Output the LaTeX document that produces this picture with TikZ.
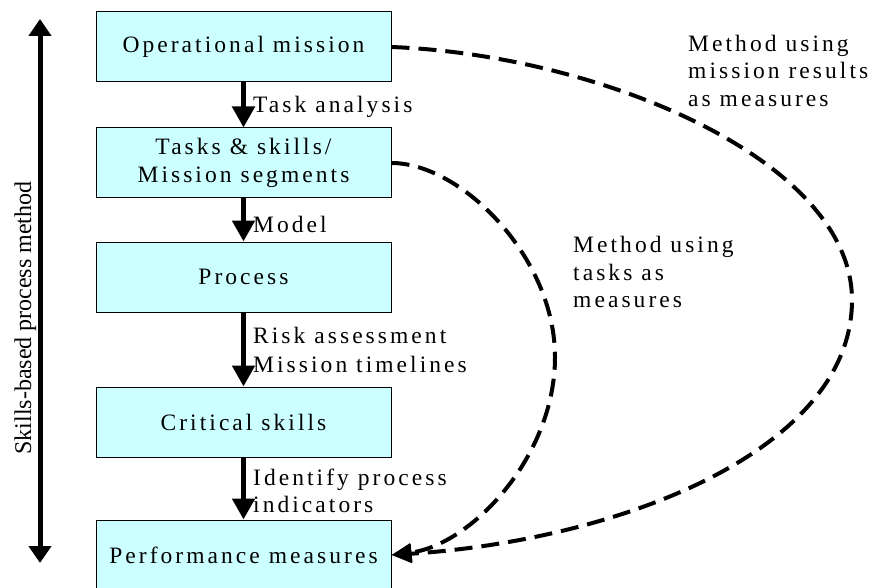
\documentclass[tikz,border=0pt]{standalone}
\usepackage{fontspec}
\setmainfont{Liberation Serif}
\newfontfamily\lsfont[LetterSpace=13]{Liberation Serif}
\usetikzlibrary{arrows.meta}
\definecolor{boxfill}{HTML}{CCFFFF}
\begin{document}
\begin{tikzpicture}[x=1pt,y=-1pt,
  box/.style={draw=black, line width=1pt, fill=boxfill, minimum width=295pt, minimum height=70pt, inner sep=0pt, align=center, font=\lsfont\fontsize{23.5}{28.5}\selectfont},
  flow/.style={line width=5pt, -{Triangle[length=21pt,width=22pt]}},
  lbl/.style={anchor=base west, inner sep=0pt, font=\lsfont\fontsize{23.5}{27}\selectfont},
  meas/.style={line width=4pt, dash pattern=on 18pt off 9pt, -{Triangle[length=20pt,width=18pt]}}
]
\useasboundingbox (0,0) rectangle (875,588);
\node[box] (b1) at (243.5,47) {Operational mission};
\node[box] (b2) at (243.5,163) {\raisebox{-3pt}{\parbox{295pt}{\centering Tasks \& skills/\\Mission segments}}};
\node[box] (b3) at (243.5,277) {Process};
\node[box] (b4) at (243.5,422) {Critical skills};
\node[box] (b5) at (243.5,555) {Performance measures};

\draw[flow] (b1) -- (b2);
\draw[flow] (b2) -- (b3);
\draw[flow] (b3) -- (b4);
\draw[flow] (b4) -- (b5);

\node[lbl] (l1) at (253,113) {Task analysis};
\node[lbl] (l2) at (253,233) {Model};
\node[lbl] (l3a) at (253,343) {Risk assessment};
\node[lbl] (l3b) at (253,372) {Mission timelines};
\node[lbl] (l4a) at (253,485) {Identify process};
\node[lbl] (l4b) at (253,512) {indicators};

\node[lbl] (r1a) at (688,52) {Method using};
\node[lbl] (r1b) at (688,79) {mission results};
\node[lbl] (r1c) at (688,107) {as measures};
\node[lbl] (r2a) at (573,252) {Method using};
\node[lbl] (r2b) at (573,280) {tasks as};
\node[lbl] (r2c) at (573,307) {measures};

\coordinate (outr) at (852,300);
\coordinate (innr) at (555,357);
\draw[meas] (b1.east) .. controls (600,55) and (852,160) .. (outr)
  .. controls (852,450) and (621,540) .. (b5.east);
\draw[meas] (b2.east) .. controls (461,163) and (555,257) .. (innr)
  .. controls (555,457) and (471,545) .. (b5.east);

\coordinate (stop) at (40,19);
\coordinate (sbot) at (40,563);
\draw[line width=5pt, {Triangle[length=17pt,width=22pt]}-{Triangle[length=17pt,width=22pt]}] (stop) -- (sbot);
\node[rotate=90, anchor=base, inner sep=0pt, font=\fontsize{24}{24}\selectfont] (side) at (31,318) {Skills-based process method};
\end{tikzpicture}
\end{document}
